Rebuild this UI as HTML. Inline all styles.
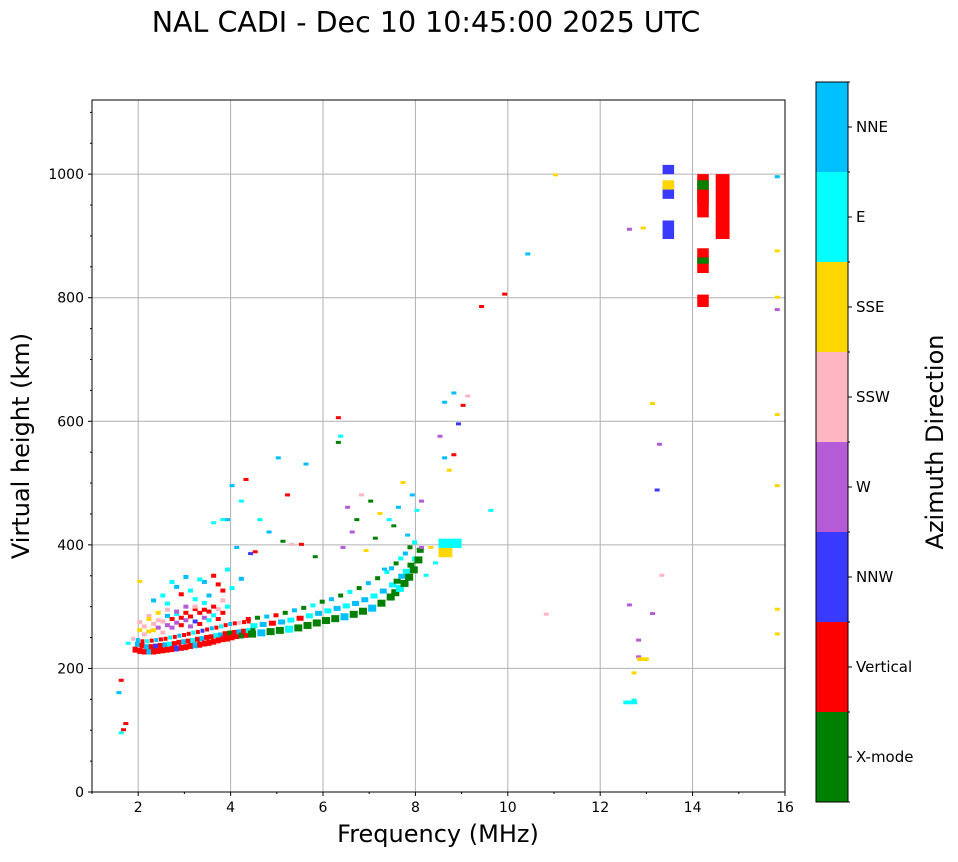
<!DOCTYPE html>
<html><head><meta charset="utf-8"><style>
body{margin:0;background:#fff;width:958px;height:857px;overflow:hidden;font-family:"Liberation Sans","DejaVu Sans",sans-serif}
</style></head><body>
<svg id="svg" width="958" height="857" xmlns="http://www.w3.org/2000/svg">
<text x="426" y="32" font-size="28.5" text-anchor="middle" font-family="DejaVu Sans, sans-serif">NAL CADI - Dec 10 10:45:00 2025 UTC</text>
<g id="grid"></g>
<g id="marks"></g>
<rect x="92" y="100" width="693" height="692" fill="none" stroke="#000" stroke-width="1"/>
<g id="axes" font-family="DejaVu Sans, sans-serif" font-size="14"></g>
<text x="438" y="842" font-size="24" text-anchor="middle" font-family="DejaVu Sans, sans-serif">Frequency (MHz)</text>
<text transform="translate(29,446) rotate(-90)" font-size="24" text-anchor="middle" font-family="DejaVu Sans, sans-serif">Virtual height (km)</text>
<g id="cbar" font-family="DejaVu Sans, sans-serif" font-size="15"></g>
<text transform="translate(943,442) rotate(-90)" font-size="24" text-anchor="middle" font-family="DejaVu Sans, sans-serif">Azimuth Direction</text>
</svg>
<script>
const catNames=["X-mode","Vertical","NNW","W","SSW","SSE","E","NNE"];
const catColors=["#008000","#ff0000","#3a3aff","#b65bd6","#ffb6c1","#ffd700","#00ffff","#00bfff"];
const xTicks=[2,4,6,8,10,12,14,16];
const yTicks=[0,200,400,600,800,1000];
const traceF=[1.9,2.0,2.1,2.2,2.3,2.4,2.5,2.6,2.7,2.8,2.9,3.0,3.1,3.2,3.3,3.4,3.5,3.6,3.7,3.8,3.9,4.0,4.1,4.2,4.3,4.4];
const traceH=[232,230,229,229,229,230,231,232,233,234,235,236,238,239,240,242,243,245,247,249,250,252,254,255,256,257];
const traceC=[1,1,1,7,1,1,1,1,1,2,1,1,1,7,1,1,1,1,1,1,1,1,1,0,1,1];
const trace2H=[240,238,236,236,237,238,239,240,241,243,244,245,246,248,249,251,252,254,255,257,258,259,260,261,262,263];
const trace2C=[7,1,7,1,2,1,7,6,1,1,7,1,6,1,7,1,1,6,7,1,0,1,7,1,6,0];
const trace3H=[248,246,244,244,245,246,247,248,250,251,253,254,256,258,259,261,263,265,266,268,270,272,273,274,275,276];
const trace3C=[4,7,1,6,1,7,1,1,6,1,7,1,1,6,1,2,1,7,1,6,1,7,1,4,1,1];
const greenF=[4.4,4.6,4.8,5.0,5.2,5.4,5.6,5.8,6.0,6.2,6.4,6.6,6.8,7.0,7.2,7.4,7.5,7.6,7.7,7.8,7.9,8.0];
const greenH=[258,260,262,264,266,268,272,276,280,283,286,290,295,300,308,318,325,332,340,350,362,378];
const greenC=[0,7,0,0,6,0,0,0,0,0,7,0,0,7,0,0,0,6,0,0,0,0];
const cyanH=[270,272,274,276,279,282,286,290,294,298,302,306,312,318,326,336,342,350,358,368,378,392];
const cyanC=[6,7,1,7,6,1,6,7,6,7,6,7,7,6,7,6,0,7,6,0,6,0];
const cyan2H=[280,282,284,286,290,294,298,302,308,312,318,324,330,338,346,356,362,370,378,386,396,404];
const cyan2C=[1,0,7,1,0,7,0,6,0,7,0,6,0,7,0,6,7,0,6,7,0,6];
const cloudF=[2.0,2.1,2.2,2.3,2.4,2.5,2.6,2.7,2.8,2.9,3.0,3.1,3.2,3.3,3.4,3.5,3.6,3.7,3.8,3.9,2.2,2.4,2.6,2.8,3.0,3.2,3.4,3.6,3.8,2.3,2.6,2.9,3.2,3.5,3.8,2.5,2.8,3.1,3.4,3.7,4.0,2.7,3.0,3.3,3.6,3.9,4.2,2.1,2.3,2.5,2.7,2.9,3.1,3.3,3.5,3.7,2.0,2.2,2.4,2.6,2.8,3.0,3.2,3.4];
const cloudH=[262,268,260,272,266,276,270,280,274,282,278,284,276,290,282,292,286,296,290,300,285,290,295,288,300,296,306,300,310,310,305,320,312,318,326,318,332,326,340,336,330,340,348,344,350,360,345,255,262,258,266,270,268,272,278,280,275,280,278,285,292,290,300,295];
const cloudC=[5,4,5,4,3,4,3,1,3,1,3,1,2,1,3,1,6,4,1,6,4,5,4,6,3,1,6,1,4,7,6,1,6,7,1,6,7,6,7,1,6,6,7,6,1,6,7,4,5,4,3,1,3,1,6,1,4,5,4,7,3,1,4,1];
const dotF=[1.6,1.65,1.7,1.55,1.6,1.75,2.0,4.0,4.3,4.6,5.0,5.2,5.6,6.3,6.35,6.3,6.5,6.8,7.0,7.2,7.4,7.6,7.7,7.9,8.0,8.1,8.3,8.5,8.6,8.7,8.8,8.9,9.0,9.1,9.4,9.9,10.4,11.0,12.6,12.7,12.9,13.1,13.2,13.25,13.3,12.8,12.6,13.1,15.8,15.8,15.8,15.8,15.8,15.8,15.8,15.8,10.8,4.2,4.8,5.3,3.8,4.5,5.8,6.6,7.1,6.9,7.3,8.2,9.6,3.6,3.9,4.1,4.4,5.1,5.5,6.4,6.7,7.5,7.8,8.1,8.4,8.6,8.8,12.8,12.7];
const dotH=[95,100,110,160,180,240,340,495,505,440,540,480,530,605,575,565,460,480,470,450,440,460,500,480,455,470,395,575,540,520,645,595,625,640,785,805,870,998,910,148,912,628,488,562,350,218,302,288,995,875,800,780,610,495,295,255,287,470,420,400,440,388,380,420,410,390,360,350,455,435,440,395,385,405,400,395,440,430,415,395,370,630,545,245,192];
const dotC=[6,1,1,7,1,6,5,7,1,6,7,1,7,1,6,0,3,4,0,5,6,7,5,7,6,3,5,3,7,5,7,2,1,4,1,1,7,5,3,6,5,5,2,3,4,3,3,3,7,5,5,3,5,5,5,5,4,6,7,4,6,1,0,3,0,5,7,6,6,6,7,7,2,0,1,3,0,0,7,3,6,7,1,3,5];
const blkF0=[8.5,8.5,13.35,13.35,13.35,13.35,14.1,14.1,14.1,14.1,14.5,14.1,14.1,12.5,12.8];
const blkF1=[9.0,8.8,13.6,13.6,13.6,13.6,14.35,14.35,14.35,14.35,14.8,14.35,14.35,12.8,13.05];
const blkH0=[395,380,1000,960,895,975,930,950,840,785,895,975,855,142,212];
const blkH1=[410,395,1015,985,925,990,1000,975,880,805,1000,990,865,148,218];
const blkC=[6,5,2,2,2,5,1,1,1,1,1,0,0,6,5];

const NS="http://www.w3.org/2000/svg";
const X0=92,X1=785,Y0=792,Y1=100;
const xs=f=>X0+(f-1)/15*(X1-X0);
const ys=h=>Y0-h/1120*(Y0-Y1);
function mk(tag,at,parent){const e=document.createElementNS(NS,tag);for(const k in at)e.setAttribute(k,at[k]);parent.appendChild(e);return e;}
const grid=document.getElementById('grid'),axes=document.getElementById('axes'),marks=document.getElementById('marks'),cbar=document.getElementById('cbar');
xTicks.forEach(t=>{const x=xs(t);
 const l=mk('line',{x1:x,x2:x,y1:Y1,y2:Y0,stroke:'#b0b0b0','stroke-width':1},grid);
 
 
 mk('line',{x1:x,x2:x,y1:Y0,y2:Y0+4,stroke:'#000'},axes);
 const tx=mk('text',{x:x,y:Y0+20,'text-anchor':'middle'},axes);tx.textContent=t;
 
 });
for(let m=1;m<=15;m+=2){const x=xs(m);mk('line',{x1:x,x2:x,y1:Y0,y2:Y0+2,stroke:'#000'},axes);}
yTicks.forEach(t=>{const y=ys(t);
 const l=mk('line',{x1:X0,x2:X1,y1:y,y2:y,stroke:'#b0b0b0','stroke-width':1},grid);
 
 
 mk('line',{x1:X0-4,x2:X0,y1:y,y2:y,stroke:'#000'},axes);
 const tx=mk('text',{x:X0-8,y:y+5,'text-anchor':'end'},axes);tx.textContent=t;
 
 });
for(let m=50;m<=1100;m+=50){if(m%200){const y=ys(m);mk('line',{x1:X0-2,x2:X0,y1:y,y2:y,stroke:'#000'},axes);}}
function cell(f,h,c,w,hh){const r=mk('rect',{x:xs(f)-1,y:ys(h)-2,width:w||3,height:hh||3,fill:catColors[c]},marks);
 
 }
traceF.forEach((f,i)=>{cell(f,traceH[i],traceC[i],5,6);cell(f+0.05,trace2H[i],trace2C[i],5,5);cell(f-0.03,trace3H[i],trace3C[i],4,4);});
greenF.forEach((f,i)=>{cell(f,greenH[i],greenC[i],8,7);cell(f+0.05,cyanH[i],cyanC[i],7,5);cell(f-0.05,cyan2H[i],cyan2C[i],5,4);});
cloudF.forEach((f,i)=>cell(f,cloudH[i],cloudC[i],5,4));
dotF.forEach((f,i)=>cell(f,dotH[i],dotC[i],5,3));
blkF0.forEach((f,i)=>{const r=mk('rect',{x:xs(f),y:ys(blkH1[i]),width:xs(blkF1[i])-xs(f),height:ys(blkH0[i])-ys(blkH1[i]),fill:catColors[blkC[i]]},marks);
 
 });
const CX=816,CW=32,CT=82,CB=802,seg=(CB-CT)/catNames.length;
catNames.forEach((n,i)=>{const y=CB-(i+1)*seg;
 const r=mk('rect',{x:CX,y:y,width:CW,height:seg,fill:catColors[i]},cbar);
 
 
 mk('line',{x1:CX+CW,x2:CX+CW+4,y1:y+seg/2,y2:y+seg/2,stroke:'#000'},cbar);
 const t=mk('text',{x:CX+CW+8,y:y+seg/2+5},cbar);t.textContent=n;
 
 });
for(let i=0;i<=catNames.length;i++){const y=CT+i*seg;mk('line',{x1:CX+CW,x2:CX+CW+2,y1:y,y2:y,stroke:'#000'},cbar);}
mk('rect',{x:CX,y:CT,width:CW,height:CB-CT,fill:'none',stroke:'#000'},cbar);
</script>
</body></html>
